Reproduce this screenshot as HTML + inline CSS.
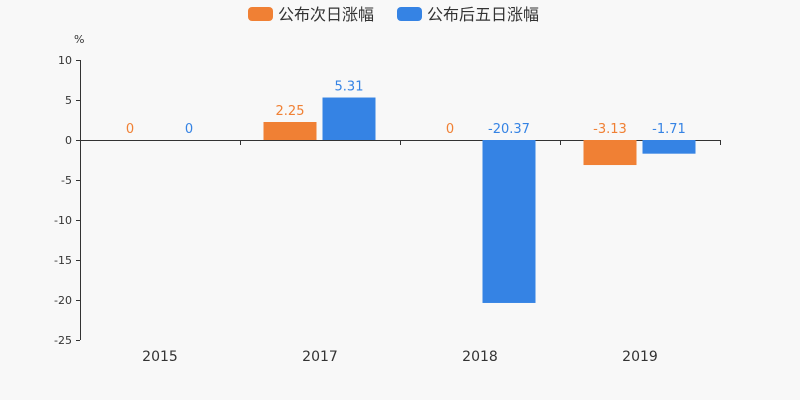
<!DOCTYPE html>
<html><head><meta charset="utf-8"><style>
body{margin:0;background:#f8f8f8;}
svg{display:block;font-family:"DejaVu Sans","Liberation Sans","Noto Sans CJK SC",sans-serif;}
</style></head><body>
<svg id="c" width="800" height="400">
<rect width="800" height="400" fill="#f8f8f8"/>
<g>
<rect x="248" y="7" width="25" height="14" rx="4" fill="#f08034"/>
<text x="278" y="20" font-size="16" fill="#333">公布次日涨幅</text>
<rect x="397" y="7" width="25" height="14" rx="4" fill="#3583e4"/>
<text x="427" y="20" font-size="16" fill="#333">公布后五日涨幅</text>
</g>
<text x="74" y="43" font-size="11" fill="#333">%</text>
<g id="ax"></g><g id="bars"></g>
</svg>
<script>
const categories=["2015","2017","2018","2019"];
const nextDay=[0,2.25,0,-3.13];
const fiveDay=[0,5.31,-20.37,-1.71];
const yTicks=[10,5,0,-5,-10,-15,-20,-25];
const NS="http://www.w3.org/2000/svg";
const y=v=>140-v*8;
const x0=80,bw=160;
function mk(t,a,p){const e=document.createElementNS(NS,t);for(const k in a)e.setAttribute(k,a[k]);p.appendChild(e);return e;}
const ax=document.getElementById('ax'),bars=document.getElementById('bars');
const yl=mk('line',{x1:80.5,x2:80.5,y1:60,y2:340,stroke:'#333'},ax);


yTicks.forEach(v=>{
 const t=mk('line',{x1:76,x2:80,y1:y(v)+.5,y2:y(v)+.5,stroke:'#333'},ax);
 
 
 const l=mk('text',{x:72,y:y(v)+4,'font-size':11,'text-anchor':'end',fill:'#333'},ax);l.textContent=v;
 
 
});
const xl=mk('line',{x1:80,x2:720,y1:140.5,y2:140.5,stroke:'#333'},ax);


for(let i=0;i<=categories.length;i++){
 const t=mk('line',{x1:x0+i*bw+.5,x2:x0+i*bw+.5,y1:140,y2:145,stroke:'#333'},ax);
 
 
}
categories.forEach((c,i)=>{
 const l=mk('text',{x:x0+i*bw+80,y:361,'font-size':14,'text-anchor':'middle',fill:'#333'},ax);l.textContent=c;
 
 
});
function series(arr,off,col,name){
 arr.forEach((v,i)=>{
  const cx=x0+i*bw+80+off;
  const top=Math.min(y(v),y(0)),h=Math.abs(y(v)-y(0));
  const r=mk('rect',{x:cx-26.5,y:top,width:53,height:h,fill:col},bars);
  
  
  const l=mk('text',{x:cx,y:top-7,'font-size':13,'text-anchor':'middle',fill:col},bars);l.textContent=v;
  
  
 });
}
series(nextDay,-30,'#f08034','next-day');
series(fiveDay,29,'#3583e4','five-day');
</script>
</body></html>
